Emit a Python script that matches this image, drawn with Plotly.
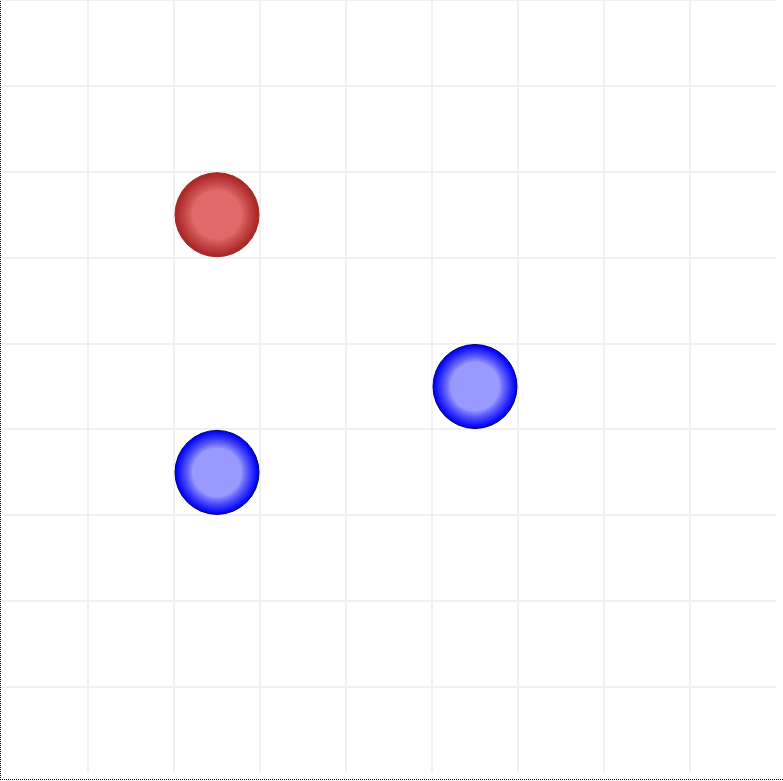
import plotly.graph_objects as go

# Board pieces (column, row centres in cell units) and their side
piece_cols = [2.5, 5.5, 2.5]
piece_rows = [2.5, 4.5, 5.5]
piece_side = ["red", "blue", "blue"]

board_size = 9

palette = {
    "red": {"light": (224, 106, 106), "dark": (172, 38, 38), "line": "#a02828"},
    "blue": {"light": (153, 153, 255), "dark": (0, 0, 250), "line": "#000060"},
}

W, H = 783, 781
ml, mr, mt, mb = 2, 7, 0, 8
pw, ph = W - ml - mr, H - mt - mb

fig = go.Figure()

def mix(a, b, t):
    return "rgb(%d,%d,%d)" % tuple(round(a[i] + (b[i] - a[i]) * t) for i in range(3))

outer = 84
inner = 50
steps = 14
for side in ["red", "blue"]:
    xs = [c for c, s in zip(piece_cols, piece_side) if s == side]
    ys = [r for r, s in zip(piece_rows, piece_side) if s == side]
    p = palette[side]
    for k in range(steps + 1):
        t = 1 - k / steps
        size = inner + (outer - inner) * t
        fig.add_trace(go.Scatter(
            x=xs, y=ys, mode="markers", hoverinfo="skip", showlegend=False,
            marker=dict(size=size, color=mix(p["light"], p["dark"], t ** 0.85),
                        line=dict(width=1 if k == 0 else 0, color=p["line"]),
                        opacity=1),
        ))

fig.update_xaxes(range=[0, board_size], dtick=1, tick0=0, showgrid=True,
                 gridcolor="#f0f0f0", gridwidth=2, zeroline=False,
                 showticklabels=False, ticks="", showline=False, fixedrange=True)
fig.update_yaxes(range=[board_size, 0], dtick=1, tick0=0, showgrid=True,
                 gridcolor="#f0f0f0", gridwidth=2, zeroline=False,
                 showticklabels=False, ticks="", showline=False, fixedrange=True)

# top grid edge
fig.add_shape(type="line", xref="paper", yref="paper", x0=0, x1=1, y0=1, y1=1,
              line=dict(color="#f0f0f0", width=2))

def px_x(p):
    return (p - ml) / pw

def px_y(p):
    return 1 - (p - mt) / ph

# dotted frame on left and bottom (pixel-aligned)
fig.add_shape(type="line", xref="paper", yref="paper",
              x0=px_x(0.5), x1=px_x(0.5), y0=px_y(780), y1=px_y(0),
              line=dict(color="#000000", width=1, dash="1px,1px"))
fig.add_shape(type="line", xref="paper", yref="paper",
              x0=px_x(0), x1=px_x(783), y0=px_y(779.5), y1=px_y(779.5),
              line=dict(color="#000000", width=1, dash="1px,1px"))

fig.update_layout(width=W, height=H, margin=dict(l=ml, r=mr, t=mt, b=mb),
                  paper_bgcolor="white", plot_bgcolor="white")

fig.write_html("out.html", config={"displayModeBar": False})
